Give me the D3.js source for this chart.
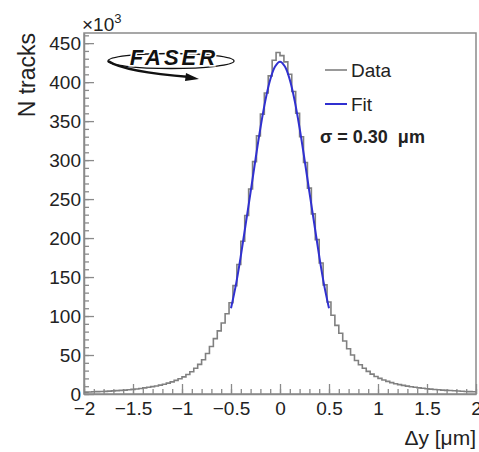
<!DOCTYPE html>
<html>
<head>
<meta charset="utf-8">
<script src="https://cdn.jsdelivr.net/npm/d3@7"></script>
<style>
  body { margin: 0; background: #fff; }
  svg text { font-family: "Liberation Sans", Arial, sans-serif; fill: #222; }
</style>
</head>
<body>
<div id="chart"></div>
<script>
// bin contents (x10^3), 100 bins of 0.04 from -2 to 2
var countsNeg = [2.4, 2.6, 2.8, 3.0, 3.2, 3.4, 3.7, 4.0, 4.3, 4.6, 5.0, 5.4, 5.9, 6.5, 7.1, 7.8, 8.6, 9.4, 10.3, 11.4,
                 12.6, 14.0, 15.6, 17.5, 19.5, 22, 25, 28.5, 33, 38, 44, 52, 61, 71, 81, 91, 103, 117, 139, 166,
                 196, 229, 263, 298, 331, 359, 386, 408, 428, 438];
var countsPos = [434, 426, 410, 388, 360, 330, 297, 264, 231, 198, 168, 140, 118, 101, 88, 78, 68, 58, 50, 43,
                 37.5, 33, 29, 25.5, 22.5, 20, 18, 16.2, 14.6, 13.2, 12, 11, 10.1, 9.3, 8.6, 7.9, 7.3, 6.7, 6.2, 5.8,
                 5.4, 5.0, 4.7, 4.4, 4.1, 3.8, 3.6, 3.3, 3.1, 2.9];
var counts = countsNeg.concat(countsPos);
var binLow = -2, binWidth = 0.04;

// fit curve
var fitX = [-0.5, -0.45, -0.4, -0.35, -0.3, -0.25, -0.2, -0.15, -0.1, -0.05, 0, 0.05, 0.1, 0.15, 0.2, 0.25, 0.3, 0.35, 0.4, 0.45, 0.5];
var fitY = [110, 140, 177, 218, 259, 301, 341, 376, 403, 420, 426, 420, 403, 376, 341, 301, 259, 218, 177, 140, 110];

var xTicks = [-2, -1.5, -1, -0.5, 0, 0.5, 1, 1.5, 2];
var xTickLabels = ["\u22122", "\u22121.5", "\u22121", "\u22120.5", "0", "0.5", "1", "1.5", "2"];
var yTicks = [0, 50, 100, 150, 200, 250, 300, 350, 400, 450];

var width = 479, height = 452;
var margin = { left: 84, right: 476, top: 33, bottom: 394 };
var axisCol = "#8a8a8a";

var svg = d3.select("#chart").append("svg")
            .attr("width", width)
            .attr("height", height);

var x = d3.scaleLinear().domain([-2, 2]).range([margin.left, margin.right]);
var y = d3.scaleLinear().domain([0, 463]).range([margin.bottom, margin.top]);

// frame
svg.append("rect")
   .attr("x", margin.left).attr("y", margin.top)
   .attr("width", margin.right - margin.left).attr("height", margin.bottom - margin.top)
   .attr("fill", "none").attr("stroke", axisCol).attr("stroke-width", 1.5);

// minor ticks
var xMinor = d3.range(-20, 21).map(function (d) { return d / 10; });
var yMinor = d3.range(0, 47).map(function (d) { return d * 10; });

svg.append("g")
   .attr("transform", "translate(0," + margin.bottom + ")")
   .call(d3.axisBottom(x).tickValues(xMinor).tickSize(-5).tickSizeOuter(0).tickFormat(""))
   .call(function (g) { g.select(".domain").remove(); g.selectAll("line").attr("stroke", axisCol).attr("stroke-width", 1.3); });
svg.append("g")
   .attr("transform", "translate(" + margin.left + ",0)")
   .call(d3.axisLeft(y).tickValues(yMinor).tickSize(-5).tickSizeOuter(0).tickFormat(""))
   .call(function (g) { g.select(".domain").remove(); g.selectAll("line").attr("stroke", axisCol).attr("stroke-width", 1.3); });

// major ticks + labels
svg.append("g")
   .attr("transform", "translate(0," + margin.bottom + ")")
   .call(d3.axisBottom(x).tickValues(xTicks).tickSize(-10).tickSizeOuter(0).tickPadding(8)
           .tickFormat(function (d, i) { return xTickLabels[i]; }))
   .call(function (g) {
       g.select(".domain").attr("stroke", axisCol).attr("stroke-width", 1.5);
       g.selectAll("line").attr("stroke", axisCol).attr("stroke-width", 1.3);
       g.selectAll("text").attr("font-size", 19).attr("fill", "#222")
        .attr("font-family", "Liberation Sans, Arial, sans-serif");
   });
svg.append("g")
   .attr("transform", "translate(" + margin.left + ",0)")
   .call(d3.axisLeft(y).tickValues(yTicks).tickSize(-10).tickSizeOuter(0).tickPadding(3))
   .call(function (g) {
       g.select(".domain").attr("stroke", axisCol).attr("stroke-width", 1.5);
       g.selectAll("line").attr("stroke", axisCol).attr("stroke-width", 1.3);
       g.selectAll("text").attr("font-size", 19).attr("fill", "#222")
        .attr("font-family", "Liberation Sans, Arial, sans-serif");
   });

// histogram outline
var histPts = [];
counts.forEach(function (c, i) {
    var lo = binLow + i * binWidth;
    histPts.push([lo, c]);
    histPts.push([lo + binWidth, c]);
});
var histLine = d3.line()
                 .x(function (d) { return x(d[0]); })
                 .y(function (d) { return y(d[1]); })
                 .curve(d3.curveLinear);
svg.append("path")
   .datum(histPts)
   .attr("d", histLine)
   .attr("fill", "none")
   .attr("stroke", "#808080")
   .attr("stroke-width", 1.6);

// fit
var fitLine = d3.line()
                .x(function (d, i) { return x(fitX[i]); })
                .y(function (d) { return y(d); })
                .curve(d3.curveCatmullRom);
svg.append("path")
   .datum(fitY)
   .attr("d", fitLine)
   .attr("fill", "none")
   .attr("stroke", "#3030d0")
   .attr("stroke-width", 2);

// axis titles
svg.append("text")
   .attr("transform", "translate(35," + margin.top + ") rotate(-90)")
   .attr("text-anchor", "end")
   .attr("font-size", 23)
   .text("N tracks");
svg.append("text")
   .attr("x", margin.right).attr("y", 445)
   .attr("text-anchor", "end")
   .attr("font-size", 21)
   .text("\u0394y [\u03bcm]");

// exponent
var ex = svg.append("text").attr("x", 82).attr("y", 31).attr("font-size", 19);
ex.append("tspan").text("\u00d710");
ex.append("tspan").attr("dy", -8).attr("font-size", 13).text("3");

// legend
var legend = [
    { label: "Data", color: "#808080", y: 70 },
    { label: "Fit", color: "#3030d0", y: 104 }
];
var lg = svg.selectAll(".lg").data(legend).enter().append("g").attr("class", "lg");
lg.append("line")
  .attr("x1", 325).attr("x2", 347)
  .attr("y1", function (d) { return d.y; }).attr("y2", function (d) { return d.y; })
  .attr("stroke", function (d) { return d.color; })
  .attr("stroke-width", function (d, i) { return i ? 2 : 1.6; });
lg.append("text")
  .attr("x", 351).attr("y", function (d) { return d.y + 7; })
  .attr("font-size", 19)
  .text(function (d) { return d.label; });

svg.append("text")
   .attr("x", 320).attr("y", 143)
   .attr("font-size", 18).attr("font-weight", "bold")
   .attr("xml:space", "preserve")
   .text("\u03c3 = 0.30  \u03bcm");

// FASER logo
var logo = svg.append("g");
logo.append("ellipse")
    .attr("cx", 171).attr("cy", 61).attr("rx", 63).attr("ry", 7.5)
    .attr("fill", "none").attr("stroke", "#111").attr("stroke-width", 1.3);
logo.append("path")
    .attr("d", "M108,61 Q125,72 190,77")
    .attr("fill", "none").attr("stroke", "#111").attr("stroke-width", 2.6);
logo.append("path")
    .attr("d", "M186,73 L199,79 L185,81 Z")
    .attr("fill", "#111");
logo.append("text")
    .attr("x", 174).attr("y", 65)
    .attr("text-anchor", "middle")
    .attr("font-size", 22)
    .attr("font-style", "italic")
    .attr("font-weight", "bold")
    .attr("letter-spacing", 3)
    .attr("font-family", "DejaVu Sans, sans-serif")
    .attr("stroke", "#fff").attr("stroke-width", 3)
    .attr("paint-order", "stroke")
    .style("fill", "#111")
    .text("FASER");
</script>
</body>
</html>
